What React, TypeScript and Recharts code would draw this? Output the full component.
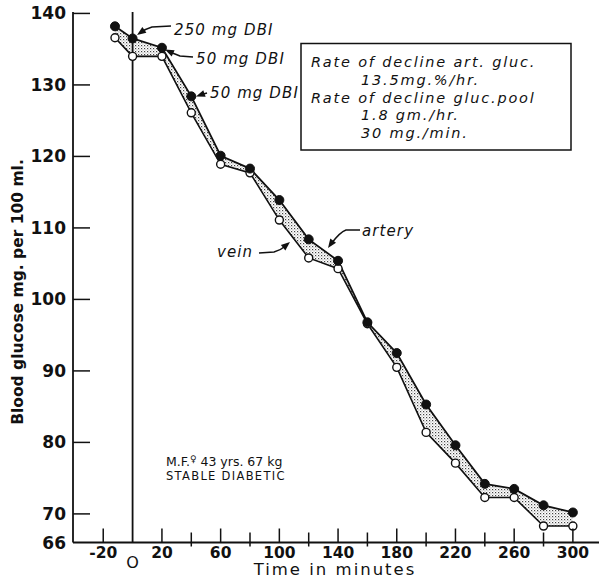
import React from "react";
import {
  ComposedChart,
  Line,
  Area,
  XAxis,
  YAxis,
  ReferenceLine,
} from "recharts";

// Time in minutes, blood glucose mg per 100 ml
const minutes = [-12, 0, 20, 40, 60, 80, 100, 120, 140, 160, 180, 200, 220, 240, 260, 280, 300];
const artery = [138.2, 136.5, 135.2, 128.4, 120.1, 118.3, 113.9, 108.4, 105.4, 96.8, 92.5, 85.3, 79.6, 74.2, 73.5, 71.2, 70.2];
const vein = [136.6, 134.0, 134.0, 126.1, 118.9, 117.7, 111.1, 105.8, 104.3, 96.6, 90.5, 81.4, 77.1, 72.3, 72.3, 68.3, 68.3];

const xTicks = [-20, 0, 20, 40, 60, 80, 100, 120, 140, 160, 180, 200, 220, 240, 260, 280, 300];
const xLabelled = [-20, 20, 60, 100, 140, 180, 220, 260, 300];
const yTicks = [66, 70, 80, 90, 100, 110, 120, 130, 140];

const boxLines = [
  "Rate of decline art. gluc.",
  "13.5mg.%/hr.",
  "Rate of decline gluc.pool",
  "1.8 gm./hr.",
  "30 mg./min.",
];

const data = minutes.map((t, i) => ({
  t,
  artery: artery[i],
  vein: vein[i],
  band: [vein[i], artery[i]],
}));

const tickFont = "'DejaVu Sans', sans-serif";
const handFont = "'DejaVu Sans', sans-serif";

function XTick(props: any) {
  const { x, y, payload } = props;
  const v = payload.value;
  if (v === 0) {
    return (
      <text x={x} y={y + 25} textAnchor="middle" fontFamily={tickFont} fontSize={16} fill="#111">
        O
      </text>
    );
  }
  const labelled = xLabelled.includes(v);
  return (
    <g>
      {labelled ? (
        <line x1={x} x2={x} y1={y - 14} y2={y} stroke="#111" strokeWidth={1.5} />
      ) : (
        <line x1={x} x2={x} y1={y - 10} y2={y + 4} stroke="#111" strokeWidth={1.5} />
      )}
      {labelled && (
        <text x={x} y={y + 15} textAnchor="middle" fontFamily={tickFont} fontWeight="bold" fontSize={15.5} fill="#111">
          {v}
        </text>
      )}
    </g>
  );
}

function YTick(props: any) {
  const { x, y, payload } = props;
  const v = payload.value;
  return (
    <g>
      {v !== 66 && <line x1={x} x2={x + 17} y1={y} y2={y} stroke="#111" strokeWidth={1.5} />}
      <text x={x - 7} y={y} dy={6} textAnchor="end" fontFamily={tickFont} fontWeight="bold" fontSize={17} fill="#111">
        {v}
      </text>
    </g>
  );
}

function Arrow({ d, tip, angle }: { d: string; tip: [number, number]; angle: number }) {
  const [tx, ty] = tip;
  return (
    <g>
      <path d={d} fill="none" stroke="#111" strokeWidth={1.5} />
      <polygon
        points="0,0 -9,-3.5 -9,3.5"
        fill="#111"
        transform={`translate(${tx},${ty}) rotate(${angle})`}
      />
    </g>
  );
}

export default function App() {
  return (
    <div style={{ position: "absolute", left: 0, top: 0, width: 599, height: 580, background: "#fff" }}>
      <ComposedChart
        width={599}
        height={580}
        data={data}
        margin={{ top: 12, right: 0, bottom: 0, left: 0 }}
      >
        <defs>
          <pattern id="stipple" width="3" height="3" patternUnits="userSpaceOnUse">
            <rect x="0" y="0" width="1.2" height="1.2" fill="#444" />
            <rect x="1.5" y="1.5" width="1" height="1" fill="#888" />
          </pattern>
        </defs>
        <XAxis
          xAxisId="top"
          orientation="top"
          type="number"
          dataKey="t"
          domain={[-40.6, 317.8]}
          allowDataOverflow
          height={0}
          tick={false}
          tickLine={false}
          axisLine={{ stroke: "#111", strokeWidth: 1.5 }}
        />
        <XAxis
          type="number"
          dataKey="t"
          domain={[-40.6, 317.8]}
          allowDataOverflow
          ticks={xTicks}
          interval={0}
          height={37.5}
          tickSize={0}
          tickMargin={0}
          tickLine={false}
          tick={XTick}
          axisLine={{ stroke: "#111", strokeWidth: 1.8 }}
        />
        <YAxis
          type="number"
          domain={[66, 140.2]}
          allowDataOverflow
          ticks={yTicks}
          interval={0}
          width={73}
          tickSize={0}
          tickMargin={0}
          tickLine={false}
          tick={YTick}
          axisLine={{ stroke: "#111", strokeWidth: 1.8 }}
        />
        <ReferenceLine x={0} stroke="#111" strokeWidth={1.8} />
        <Area
          dataKey="band"
          type="linear"
          stroke="none"
          fill="url(#stipple)"
          fillOpacity={1}
          isAnimationActive={false}
        />
        <Line
          dataKey="vein"
          type="linear"
          stroke="#111"
          strokeWidth={1.6}
          dot={{ r: 4, fill: "#fff", stroke: "#111", strokeWidth: 1.4 }}
          isAnimationActive={false}
        />
        <Line
          dataKey="artery"
          type="linear"
          stroke="#111"
          strokeWidth={1.8}
          dot={{ r: 4.5, fill: "#111", stroke: "#111", strokeWidth: 1 }}
          isAnimationActive={false}
        />
      </ComposedChart>

      <svg
        width={599}
        height={580}
        style={{ position: "absolute", left: 0, top: 0, pointerEvents: "none" }}
      >
        {/* axis titles */}
        <text
          x={0}
          y={0}
          transform="translate(23,292) rotate(-90)"
          textAnchor="middle"
          fontFamily={tickFont}
          fontWeight="bold"
          fontSize={15.5}
          fill="#111"
        >
          Blood glucose mg. per 100 ml.
        </text>
        <text x={335} y={575} textAnchor="middle" fontFamily={tickFont} fontSize={16.5} letterSpacing={2} fill="#111">
          Time in minutes
        </text>

        {/* dose annotations */}
        <g fontFamily={handFont} fontStyle="italic" fontSize={15} letterSpacing={1.1} fill="#111">
          <text x={174} y={35}>250 mg DBI</text>
          <text x={196} y={64}>50 mg DBI</text>
          <text x={210} y={98}>50 mg DBI</text>
          <text x={362} y={236}>artery</text>
          <text x={217} y={257}>vein</text>
        </g>
        <Arrow d="M171,26 L152,27 Q145,29 140,33" tip={[137, 35]} angle={145} />
        <Arrow d="M193,57 L180,56 Q172,53 168,51" tip={[165, 49.5]} angle={-155} />
        <Arrow d="M207,93 L200,95" tip={[196, 96.5]} angle={160} />
        <Arrow d="M360,230 L346,230 Q340,232 331,244" tip={[328, 248]} angle={125} />
        <Arrow d="M259,253 L274,252 Q281,250 287,245" tip={[290, 242]} angle={-40} />

        {/* rate box */}
        <rect x={301} y={43.5} width={270} height={106.5} fill="none" stroke="#111" strokeWidth={1.5} />
        <g fontFamily={handFont} fontStyle="italic" fontSize={14.5} letterSpacing={1.8} fill="#111">
          <text x={311} y={66.5}>{boxLines[0]}</text>
          <text x={361} y={84.5}>{boxLines[1]}</text>
          <text x={311} y={102.5}>{boxLines[2]}</text>
          <text x={361} y={120}>{boxLines[3]}</text>
          <text x={361} y={138}>{boxLines[4]}</text>
        </g>

        {/* subject */}
        <g fontFamily={tickFont} fill="#111">
          <text x={166} y={466} fontSize={12.5}>
            M.F.<tspan fontSize={9} dy={-4}>♀</tspan>
            <tspan dy={4}> 43 yrs. 67 kg</tspan>
          </text>
          <text x={166} y={480} fontSize={11.5} letterSpacing={1.3}>STABLE DIABETIC</text>
        </g>
      </svg>
    </div>
  );
}
